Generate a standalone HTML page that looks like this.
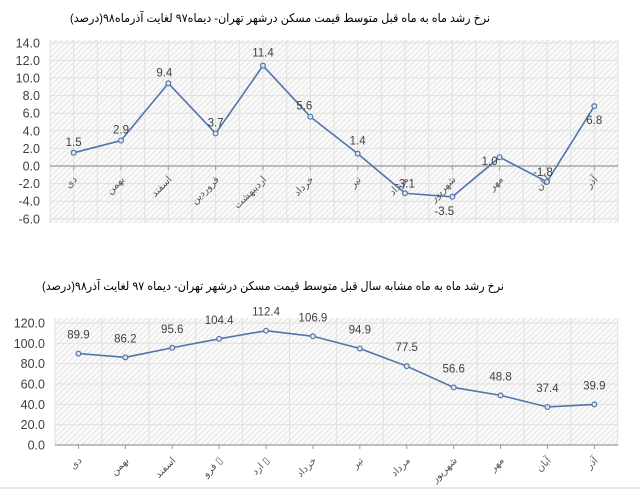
<!DOCTYPE html>
<html><head><meta charset="utf-8"><style>
body{margin:0;background:#fff;width:640px;height:494px;overflow:hidden}
svg text{font-family:"Liberation Sans","DejaVu Sans",sans-serif}
</style></head><body>
<svg width="640" height="494" xmlns="http://www.w3.org/2000/svg">
<defs>
<pattern id="h" width="4" height="4" patternUnits="userSpaceOnUse" patternTransform="rotate(45)">
<rect width="4" height="4" fill="#fafafa"/><line x1="0" y1="0" x2="0" y2="4" stroke="#d8d8d8" stroke-width="1.3"/>
</pattern>
</defs>
<text x="280" y="22" font-size="12" text-anchor="middle" font-family="DejaVu Sans" direction="rtl" textLength="420" lengthAdjust="spacingAndGlyphs">نرخ رشد ماه به ماه قبل متوسط قیمت مسکن درشهر تهران- دیماه۹۷ لغایت آذرماه۹۸(درصد)</text>
<rect x="50" y="40" width="568" height="183" fill="url(#h)"/>
<g id="c1"></g>
<text x="273" y="290" font-size="12" text-anchor="middle" font-family="DejaVu Sans" direction="rtl" textLength="462" lengthAdjust="spacingAndGlyphs">نرخ رشد ماه به ماه مشابه سال قبل متوسط قیمت مسکن درشهر تهران- دیماه ۹۷ لغایت آذر۹۸(درصد)</text>
<rect x="55" y="318" width="563" height="127" fill="url(#h)"/>
<g id="c2"></g>
<line x1="0" y1="488" x2="640" y2="488" stroke="#ccc"/>
</svg>
<script>
var NS="http://www.w3.org/2000/svg";
function el(p,t,a,txt){var e=document.createElementNS(NS,t);for(var k in a)e.setAttribute(k,a[k]);if(txt!=null)e.textContent=txt;p.appendChild(e);return e;}
var m=["دی","بهمن","اسفند","فروردین","اردیبهشت","خرداد","تیر","مرداد","شهریور","مهر","آبان","آذر"];
var m2=["دی","بهمن","اسفند","فرو ▯","ارد ▯","خرداد","تیر","مرداد","شهریور","مهر","آبان","آذر"];
// chart1
var g=document.getElementById("c1");
var L=50,W=47.33,y0=166,s=8.8;
function Y1(v){return y0-v*s;}
for(var i=0;i<=24;i++){var x=L+i*W/2;el(g,"line",{x1:x,y1:40,x2:x,y2:223,stroke:"#e0e0e0"});}
for(var v=-6;v<=14;v+=2){el(g,"line",{x1:L,y1:Y1(v),x2:618,y2:Y1(v),stroke:"#e0e0e0"});
el(g,"text",{x:40,y:Y1(v)+4.5,"font-size":12.5,"text-anchor":"end",fill:"#404040"},v.toFixed(1));}
el(g,"line",{x1:L,y1:y0,x2:618,y2:y0,stroke:"#999","stroke-width":1.3});
var d1=[1.5,2.9,9.4,3.7,11.4,5.6,1.4,-3.1,-3.5,1.0,-1.8,6.8];
var lo1=[[0,-7],[0,-7],[-4,-7],[0,-7],[0,-9],[-6,-7],[0,-9],[0,-6],[-8,18],[-10,8],[-4,-6],[0,18]];
var pts=d1.map(function(v,i){return (L+W/2+i*W)+","+Y1(v)}).join(" ");
for(var i=0;i<12;i++){var x=L+W/2+i*W;el(g,"line",{x1:x,y1:y0,x2:x,y2:y0+4,stroke:"#999"});
el(g,"text",{x:x+4,y:y0+14,"font-size":10,"text-anchor":"end",fill:"#555",transform:"rotate(-45 "+(x+4)+" "+(y0+14)+")","font-family":"DejaVu Sans"},m[i]);}
el(g,"polyline",{points:pts,fill:"none",stroke:"#4f76a8","stroke-width":1.6});
d1.forEach(function(v,i){var x=L+W/2+i*W;el(g,"circle",{cx:x,cy:Y1(v),r:2.4,fill:"#dfe6f0",stroke:"#4f76a8","stroke-width":1.2});
el(g,"text",{x:x+lo1[i][0],y:Y1(v)+lo1[i][1],"font-size":11.5,"text-anchor":"middle",fill:"#404040"},v.toFixed(1));});
// chart2
g=document.getElementById("c2");
L=55;W=46.9;var b=445,s2=1.017;
function Y2(v){return b-v*s2;}
for(var i=0;i<=12;i++){var x=L+i*W;el(g,"line",{x1:x,y1:318,x2:x,y2:445,stroke:"#e0e0e0"});}
for(var v=0;v<=120;v+=20){el(g,"line",{x1:L,y1:Y2(v),x2:618,y2:Y2(v),stroke:"#e0e0e0"});
el(g,"text",{x:45,y:Y2(v)+4.5,"font-size":12.5,"text-anchor":"end",fill:"#404040"},v.toFixed(1));}
el(g,"line",{x1:L,y1:b,x2:618,y2:b,stroke:"#999","stroke-width":1.3});
var d2=[89.9,86.2,95.6,104.4,112.4,106.9,94.9,77.5,56.6,48.8,37.4,39.9];
pts=d2.map(function(v,i){return (L+W/2+i*W)+","+Y2(v)}).join(" ");
for(var i=0;i<12;i++){var x=L+W/2+i*W;el(g,"line",{x1:x,y1:b,x2:x,y2:b+4,stroke:"#999"});
el(g,"text",{x:x+4,y:b+16,"font-size":10,"text-anchor":"end",fill:"#555",transform:"rotate(-45 "+(x+4)+" "+(b+16)+")","font-family":"DejaVu Sans"},m2[i]);}
el(g,"polyline",{points:pts,fill:"none",stroke:"#4f76a8","stroke-width":1.6});
d2.forEach(function(v,i){var x=L+W/2+i*W;el(g,"circle",{cx:x,cy:Y2(v),r:2.4,fill:"#dfe6f0",stroke:"#4f76a8","stroke-width":1.2});
el(g,"text",{x:x,y:Y2(v)-15,"font-size":11.5,"text-anchor":"middle",fill:"#404040"},v.toFixed(1));});
</script>
</body></html>
